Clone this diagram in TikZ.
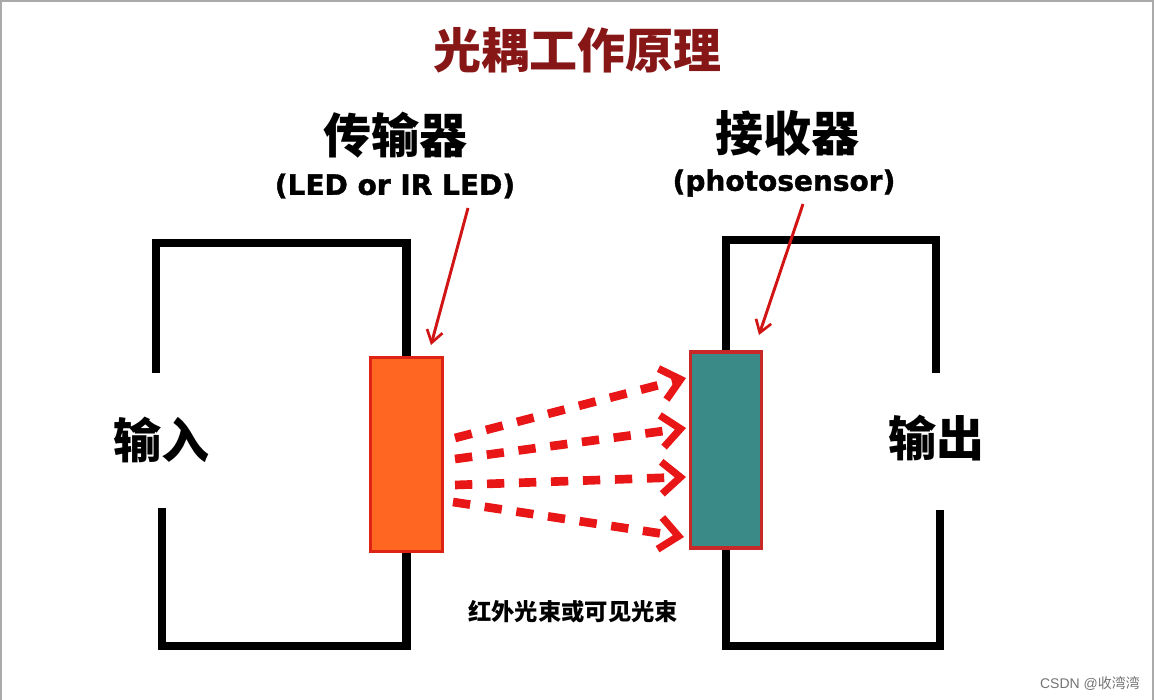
\documentclass[tikz,border=0pt]{standalone}
\usepackage{fontspec}
\setmainfont{Liberation Sans}
\newfontfamily\cjk{Noto Sans CJK SC}
\newfontfamily\heavy[BoldFeatures={FakeBold=1.5}]{DejaVu Sans}
\usetikzlibrary{arrows.meta}
\definecolor{titlered}{RGB}{135,22,22}
\definecolor{ledfill}{RGB}{255,102,34}
\definecolor{ledborder}{RGB}{222,34,20}
\definecolor{tealfill}{RGB}{58,138,136}
\definecolor{tealborder}{RGB}{200,40,40}
\definecolor{beamred}{RGB}{232,22,22}
\definecolor{framegray}{RGB}{170,170,170}
\tikzset{
  wire/.style={line width=6.5pt, black, line join=miter},
  beam/.style={line width=6.5pt, beamred, dash pattern=on 13pt off 11pt,
    -{Straight Barb[length=14pt,width=24pt,line width=5.5pt]}},
  pointer/.style={line width=2.2pt, beamred!90!black, -{Straight Barb[length=9pt,width=12pt,line width=2pt]}},
  cjklabel/.style={font=\cjk\bfseries\fontsize{36pt}{40pt}\selectfont, inner sep=0pt},
  enlabel/.style={font=\heavy\bfseries\fontsize{21pt}{25pt}\selectfont, inner sep=0pt},
}
\begin{document}
\begin{tikzpicture}[x=0.75pt, y=-0.75pt]
\useasboundingbox (0,0) rectangle (1154,700);
\draw[framegray, line width=1.2pt] (1,700) -- (1,1) -- (1153,1) -- (1153,700);

% title
\node[cjklabel, text=titlered] (title) at (577,50) {光耦工作原理};

% components
\node[draw=ledborder, fill=ledfill, line width=2.3pt, minimum width=54pt, minimum height=146pt, inner sep=0pt] (led) at (406.5,454.5) {};
\node[draw=tealborder, fill=tealfill, line width=2.3pt, minimum width=53pt, minimum height=147pt, inner sep=0pt] (sens) at (726,450) {};

% left circuit
\coordinate (ltl) at (156,243);
\coordinate (lin1) at (156,373);
\coordinate (lbl) at (162,646);
\coordinate (lin2) at (162,508);
\draw[wire] (led.north) |- (ltl) -- (lin1);
\draw[wire] (led.south) |- (lbl) -- (lin2);

% right circuit
\coordinate (rtr) at (936,240);
\coordinate (rout1) at (936,373);
\coordinate (rbr) at (940,646);
\coordinate (rout2) at (940,510);
\draw[wire] (sens.north) |- (rtr) -- (rout1);
\draw[wire] (sens.south) |- (rbr) -- (rout2);

% labels
\node[cjklabel] (tx) at (395,135) {传输器};
\node[enlabel] (txen) at (395,186) {(LED or IR LED)};
\node[cjklabel] (rx) at (787,133) {接收器};
\node[enlabel] (rxen) at (784,183) {(photosensor)};
\node[cjklabel] (in) at (161,440) {输入};
\node[cjklabel] (out) at (936,438) {输出};
\node[font=\cjk\bfseries\fontsize{17.5pt}{20pt}\selectfont, inner sep=0pt] (beamlbl) at (573,612) {红外光束或可见光束};
\node[font=\fontsize{10.5pt}{12pt}\selectfont, text=black!55, inner sep=0pt] (wm) at (1090,683) {CSDN @\cjk 收湾湾};

% pointers
\coordinate (p1s) at (468,208);
\coordinate (p1e) at (431,345);
\coordinate (p2s) at (803,204);
\coordinate (p2e) at (759,335);
\draw[pointer] (p1s) -- (p1e);
\draw[pointer] (p2s) -- (p2e);

% beams
\coordinate (b1s) at (455,438); \coordinate (b1e) at (686,378);
\coordinate (b2s) at (455,459); \coordinate (b2e) at (686,428);
\coordinate (b3s) at (455,485); \coordinate (b3e) at (686,477);
\coordinate (b4s) at (453,502); \coordinate (b4e) at (684,537);
\draw[beam] (b1s) -- (b1e);
\draw[beam] (b2s) -- (b2e);
\draw[beam] (b3s) -- (b3e);
\draw[beam] (b4s) -- (b4e);
\end{tikzpicture}
\end{document}
